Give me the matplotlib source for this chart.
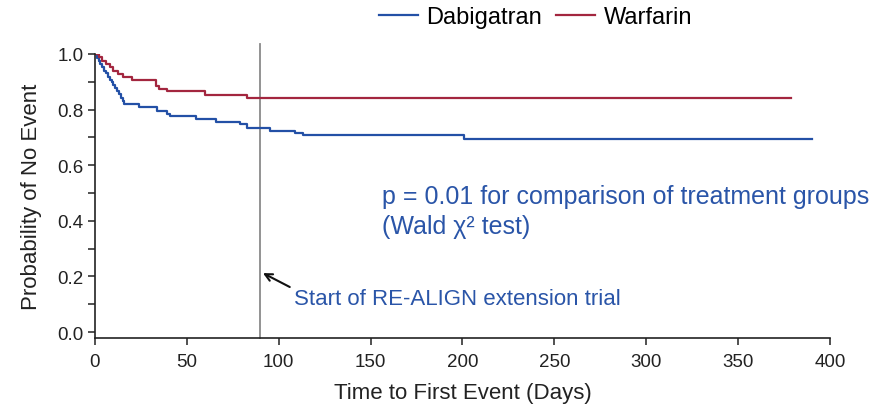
import matplotlib
matplotlib.use("Agg")
import matplotlib.pyplot as plt
from matplotlib.ticker import MultipleLocator

plt.rcParams['font.family'] = ['Liberation Sans', 'DejaVu Sans']

# Kaplan-Meier step data (days, probability of no event)
dabi_days = [0, 1, 2, 3, 4, 5, 6, 7, 8, 9, 10, 11, 12, 13, 14, 15, 16, 24, 34, 39, 41,
             55, 66, 79, 83, 95, 109, 113, 201, 390]
dabi_prob = [1.0, 0.985, 0.975, 0.963, 0.952, 0.94, 0.93, 0.918, 0.908, 0.898, 0.888,
             0.877, 0.866, 0.855, 0.843, 0.832, 0.82, 0.809, 0.795, 0.785, 0.777,
             0.766, 0.757, 0.748, 0.735, 0.723, 0.716, 0.709, 0.694, 0.694]
warf_days = [0, 2, 4, 6, 8, 10, 12.5, 15, 20, 33, 35, 39, 60, 83, 379]
warf_prob = [1.0, 0.99, 0.975, 0.965, 0.953, 0.94, 0.928, 0.917, 0.905, 0.885, 0.875,
             0.866, 0.852, 0.84, 0.84]

x_ticks = [0, 50, 100, 150, 200, 250, 300, 350, 400]
y_ticks = [0.0, 0.2, 0.4, 0.6, 0.8, 1.0]
extension_start = 90

blue = '#2350a6'
red = '#a3263f'
text_blue = '#2a55a8'

fig = plt.figure(figsize=(8.77, 4.10), dpi=100)
ax = fig.add_axes([0.1083, 0.1741, 0.8381, 0.6918])

ax.step(dabi_days, dabi_prob, where='post', color=blue, lw=1.6, label='Dabigatran')
ax.step(warf_days, warf_prob, where='post', color=red, lw=1.6, label='Warfarin')

ax.plot([extension_start, extension_start], [-0.02, 1.036], color='#8a8a8a', lw=1.3,
        clip_on=False, zorder=1)

ax.set_xlim(0, 400)
ax.set_ylim(-0.02, 1.0)
ax.set_xticks(x_ticks)
ax.set_yticks(y_ticks)
ax.set_yticklabels([f'{v:.1f}' for v in y_ticks])
ax.yaxis.set_minor_locator(MultipleLocator(0.1))
ax.tick_params(axis='both', which='both', direction='out', length=5, width=1.1,
               labelsize=13.5, color='#222222', labelcolor='#222222')
ax.tick_params(axis='x', pad=6)
ax.tick_params(axis='y', pad=3)
for s in ['top', 'right']:
    ax.spines[s].set_visible(False)
for s in ['left', 'bottom']:
    ax.spines[s].set_linewidth(1.2)
    ax.spines[s].set_color('#222222')
ax.spines['bottom'].set_bounds(0, 400)
ax.spines['left'].set_bounds(-0.02, 1.0)

ax.set_xlabel('Time to First Event (Days)', fontsize=16, color='#222222', labelpad=9)
ax.set_ylabel('Probability of No Event', fontsize=16, color='#222222', labelpad=11)

ax.text(156, 0.49, 'p = 0.01 for comparison of treatment groups', fontsize=18,
        color=text_blue, va='center', ha='left')
ax.text(156, 0.38, '(Wald χ² test)', fontsize=18, color=text_blue,
        va='center', ha='left')

ax.annotate('', xy=(91.4, 0.212), xytext=(106, 0.162),
            arrowprops=dict(arrowstyle='->', color='#111111', lw=1.5,
                            shrinkA=0, shrinkB=0, mutation_scale=13))
ax.text(108.5, 0.122, 'Start of RE-ALIGN extension trial', fontsize=16,
        color=text_blue, va='center', ha='left')

fig.legend(loc='center', bbox_to_anchor=(0.6106, 0.956), ncol=2, frameon=False,
           fontsize=17, handlelength=1.65, columnspacing=0.6, handletextpad=0.35)

fig.savefig('out.png', dpi=100)
